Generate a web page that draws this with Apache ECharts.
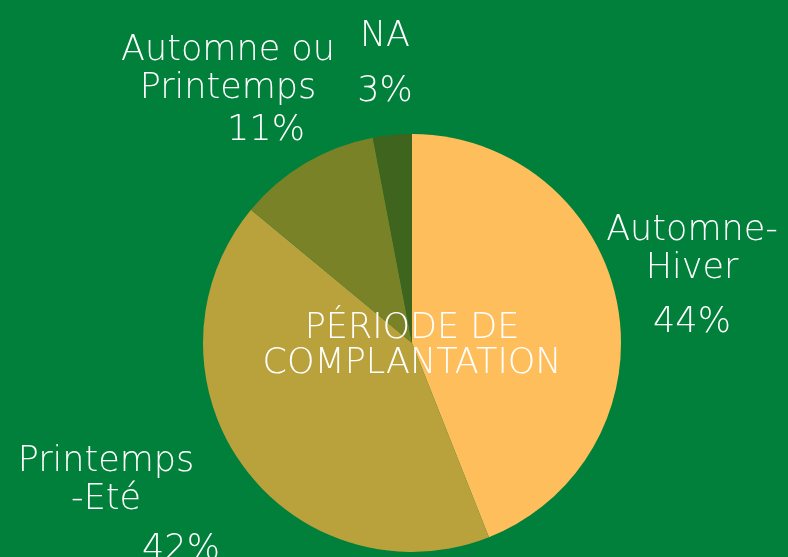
<!DOCTYPE html>
<html lang="fr">
<head>
    <meta charset="UTF-8">
    <title>Période de complantation</title>
    <script type="text/javascript" src="https://cdn.jsdelivr.net/npm/echarts@6/dist/echarts.min.js"></script>
    <style>
        html, body { margin: 0; padding: 0; background: #00803A; }
        #chart { width: 788px; height: 557px; }
    </style>
</head>
<body>
<div id="chart"></div>
<script>
    // catégories et valeurs (%)
    var periodes = ['Automne-Hiver', 'Printemps-Eté', 'Automne ou Printemps', 'NA'];
    var lignes = [['Automne-', 'Hiver'], ['Printemps', '-Eté'], ['Automne ou', 'Printemps'], ['NA']];
    var valeurs = [44, 42, 11, 3];
    var couleurs = ['#FFBE5C', '#B9A23B', '#7A8228', '#3E641E'];

    // position des étiquettes (centre du bloc de texte)
    var etiquettes = [
        {x: 692, y: 285, ecart: 70, decal: 0},
        {x: 106, y: 512, ecart: 62, decal: 150},
        {x: 228, y: 93, ecart: 46, decal: 76},
        {x: 385, y: 73, ecart: 72, decal: 0}
    ];

    var police = '"DejaVu Sans", sans-serif';
    var chart = echarts.init(document.getElementById('chart'));

    var donnees = periodes.map(function (nom, i) {
        return {
            name: nom,
            value: valeurs[i],
            itemStyle: {color: couleurs[i]},
            label: {
                formatter: lignes[i].map(function (l) { return '{n|' + l + '}'; }).join('\n') +
                    '\n{p|' + valeurs[i] + '%}',
                rich: {
                    n: {fontSize: 35, lineHeight: 38, color: '#fff', fontFamily: police, fontWeight: 200},
                    p: {fontSize: 35, lineHeight: etiquettes[i].ecart, color: '#fff', fontFamily: police,
                        fontWeight: 200, padding: [0, 0, 0, etiquettes[i].decal]}
                }
            }
        };
    });

    var option = {
        backgroundColor: '#00803A',
        animation: false,
        title: {
            text: 'PÉRIODE DE\nCOMPLANTATION',
            left: 407,
            top: 306,
            textAlign: 'center',
            textStyle: {
                color: '#fff',
                fontSize: 35,
                lineHeight: 35,
                fontWeight: 200,
                fontFamily: police
            }
        },
        series: [{
            type: 'pie',
            center: [412, 343],
            radius: 209,
            startAngle: 90,
            clockwise: true,
            silent: true,
            label: {show: true, position: 'outside', align: 'center', overflow: 'none'},
            labelLine: {show: false},
            labelLayout: function (params) {
                var e = etiquettes[params.dataIndex];
                return {x: e.x, y: e.y, align: 'center', verticalAlign: 'middle'};
            },
            data: donnees
        }]
    };
    chart.setOption(option);
</script>
</body>
</html>
